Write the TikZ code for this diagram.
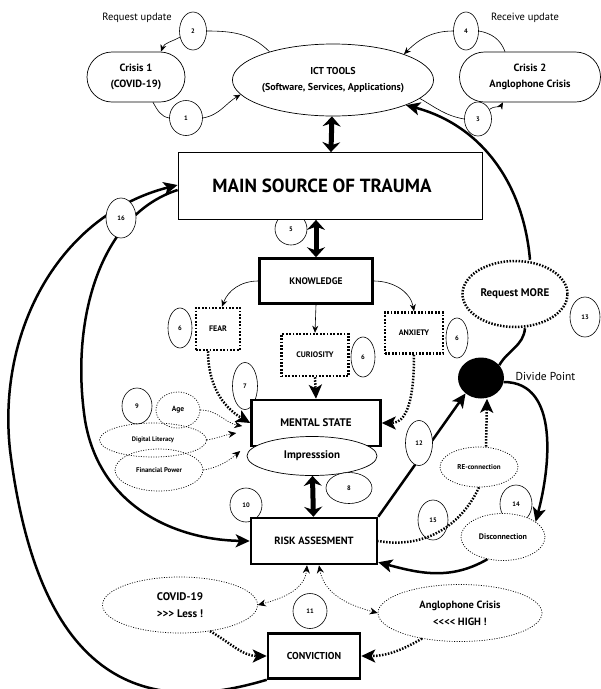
\documentclass[tikz,border=0pt]{standalone}
\usepackage{fontspec}
\setmainfont{PT Sans}
\usetikzlibrary{arrows.meta,shapes.geometric,shapes.misc}
\newcommand\fsz[2]{\fontsize{#1}{#2}\selectfont}

\begin{document}
\begin{tikzpicture}[x=1pt,y=-1pt,
  num/.style={draw,ellipse,fill=white,inner sep=0pt,line width=.6pt,font=\bfseries\fsz{6.5}{7}},
  pill/.style={draw,rounded rectangle,fill=white,align=center,inner sep=0pt,line width=.7pt,font=\bfseries\fsz{10.5}{16}},
  oval/.style={draw,ellipse,fill=white,align=center,inner sep=0pt,line width=.7pt},
  dotoval/.style={draw,ellipse,align=center,inner sep=0pt,line width=.7pt,dash pattern=on 1pt off 1.5pt},
  heavybox/.style={draw,line width=2.5pt,fill=white,inner sep=0pt,font=\bfseries\fsz{10.5}{12}},
  dotbox/.style={draw,line width=2.5pt,dash pattern=on 1.8pt off 1.6pt,fill=white,inner sep=0pt,font=\bfseries\fsz{8}{9}},
  thin/.style={line width=.6pt},
  thinarr/.style={line width=.6pt,-{Stealth[length=7pt,width=6pt]}},
  heavyarr/.style={line width=2.5pt,-{Stealth[length=14pt,width=13pt,inset=3.5pt]}},
  dotarr/.style={line width=2.5pt,dash pattern=on 1.5pt off 1.5pt,-{Stealth[length=14pt,width=13pt,inset=3.5pt]}},
  thindot/.style={line width=.7pt,dash pattern=on 1pt off 1.5pt},
  smallhead/.tip={Stealth[length=8pt,width=7pt]},
  dblarr/.style={line width=5pt,{Stealth[length=10pt,width=18pt]}-{Stealth[length=10pt,width=18pt]}}]
  \useasboundingbox (0,0) rectangle (601,689);

  \node[oval,minimum width=192pt,minimum height=72pt,font=\bfseries\fsz{10}{16}] (ict) at (333,80) {ICT TOOLS\\(Software, Services, Applications)};
  \node[pill,minimum width=98pt,minimum height=50pt] (crisA) at (136,77) {Crisis 1\\(COVID-19)};
  \node[pill,minimum width=141pt,minimum height=50pt] (crisB) at (530,77) {Crisis 2\\Anglophone Crisis};
  \node[num,minimum width=27pt,minimum height=38pt] (n2) at (193,31) {2};
  \node[num,minimum width=33pt,minimum height=35pt] (n1) at (186,118) {1};
  \node[num,minimum width=25pt,minimum height=38pt] (n4) at (466,31) {4};
  \node[num,minimum width=27pt,minimum height=34pt] (n3) at (478,119) {3};
  \node[font=\fsz{10.5}{12}] (requpd) at (137,18) {Request update};
  \node[font=\fsz{10.5}{12}] (recupd) at (525,18) {Receive update};

  \node[num,minimum width=32pt,minimum height=32pt] (n5) at (291,229) {5};
  \node[draw,line width=.8pt,fill=white,minimum width=304pt,minimum height=67pt,font=\bfseries\fsz{19}{20}] (trauma) at (330,186) {MAIN SOURCE OF TRAUMA\hspace*{16pt}};
  \node[heavybox,minimum width=113pt,minimum height=45pt,font=\bfseries\fsz{9.5}{10}] (know) at (316,281) {KNOWLEDGE};

  \node[dotbox,minimum width=44pt,minimum height=42pt] (fear) at (218,329) {FEAR};
  \node[num,minimum width=24pt,minimum height=40pt] (n6a) at (180,328) {6};
  \node[dotbox,minimum width=67pt,minimum height=42pt] (curio) at (315,355) {CURIOSITY};
  \node[num,minimum width=24pt,minimum height=40pt] (n6b) at (363,357) {6};
  \node[dotbox,minimum width=58pt,minimum height=41pt] (anx) at (414,333) {ANXIETY};
  \node[num,minimum width=22pt,minimum height=40pt] (n6c) at (457,338) {6};

  \node[num,minimum width=25pt,minimum height=47pt] (n7) at (245,386) {7};
  \node[heavybox,minimum width=129pt,minimum height=46pt,font=\bfseries\fsz{11}{12}] (mental) at (316,423) {MENTAL STATE};
  \node[oval,minimum width=130pt,minimum height=39pt,font=\bfseries\fsz{11}{12}] (impr) at (312,456) {Impresssion};
  \node[dotoval,minimum width=44pt,minimum height=36pt,font=\bfseries\fsz{7.5}{8}] (age) at (178,410) {Age};
  \node[num,minimum width=30pt,minimum height=36pt] (n9) at (137,406) {9};
  \node[dotoval,minimum width=107pt,minimum height=34pt,font=\bfseries\fsz{6.5}{7}] (dig) at (153,440) {Digital Literacy};
  \node[dotoval,minimum width=88pt,minimum height=42pt,font=\bfseries\fsz{6.8}{7}] (fin) at (159,470) {Financial Power};
  \node[num,minimum width=46pt,minimum height=31pt] (n8) at (349,488) {8};
  \node[num,minimum width=32pt,minimum height=34pt] (n10) at (246,505) {10};
  \node[heavybox,minimum width=126pt,minimum height=46pt] (risk) at (314,541) {RISK ASSESMENT};

  \node[ellipse,fill=black,minimum width=46pt,minimum height=41pt,inner sep=0pt] (div) at (481,378) {};
  \node[anchor=west,font=\fsz{11.5}{12}] (divlbl) at (512,376) {Divide Point};
  \node[oval,line width=2.5pt,dash pattern=on 1.5pt off 1.5pt,minimum width=105pt,minimum height=66pt,font=\bfseries\fsz{11}{12}] (req) at (515,294) {Request MORE};
  \node[num,minimum width=30pt,minimum height=40pt] (n13) at (585,317) {13};
  \node[dotoval,minimum width=78pt,minimum height=40pt,font=\bfseries\fsz{7}{8}] (recon) at (479,467) {RE-connection};
  \node[num,minimum width=32pt,minimum height=38pt] (n14) at (516,504) {14};
  \node[dotoval,fill=white,minimum width=84pt,minimum height=47pt,font=\bfseries\fsz{8}{9}] (disc) at (503,537) {Disconnection};
  \node[num,minimum width=30pt,minimum height=40pt] (n15) at (433,520) {15};

  \node[dotoval,minimum width=155pt,minimum height=56pt,font=\bfseries\fsz{11}{17}] (cov) at (180,605) {COVID-19\\{>}{>}{>} Less !};
  \node[dotoval,minimum width=164pt,minimum height=57pt,font=\bfseries\fsz{10.5}{17}] (ang) at (460,613) {Anglophone Crisis\\{<}{<}{<}{<} HIGH !};
  \node[num,minimum width=34pt,minimum height=35pt] (n11) at (310,611) {11};
  \node[heavybox,minimum width=92pt,minimum height=45pt,font=\bfseries\fsz{10}{12}] (conv) at (314,656) {CONVICTION};

  \draw[thin] (ict.156) to[out=135,in=0] (n2.east);
  \draw[thinarr] (n2.205) to[out=210,in=70] ([xshift=25pt]crisA.north);
  \draw[thin] ([xshift=17pt]crisA.south) to[out=-60,in=170] (n1.west);
  \draw[thinarr] (n1.east) to[out=10,in=210] (ict.189);
  \draw[thinarr] (n4.west) to[out=180,in=45] (ict.20);
  \draw[thin] (n4.east) to[out=-10,in=110] ([xshift=-25pt]crisB.north);
  \draw[thin] (ict.-12) to[out=-30,in=170] (n3.west);
  \draw[thinarr] (n3.40) to[out=40,in=240] ([xshift=-27pt]crisB.south);
  \draw[dblarr] (ict) -- (trauma);
  \draw[dblarr] (trauma.south -| know.north) -- (know.north);

  \draw[thinarr] (know.west) to[out=180,in=70] ([xshift=4pt]fear.north);
  \draw[thinarr] (know.south) -- (curio.north);
  \draw[thinarr] (know.east) to[out=0,in=100] (anx.north);
  \draw[dotarr] (curio.south) -- (mental.north);
  \draw[dotarr] ([xshift=-10pt]fear.south) to[out=-90,in=150] (mental.west);
  \draw[dotarr] (anx.south) to[out=-90,in=0] (mental.east);
  \draw[thindot,-smallhead] (age.east) to[out=0,in=170] ([xshift=-8pt,yshift=-3pt]mental.west);
  \draw[thindot,-smallhead] (dig.east) to[out=10,in=190] ([xshift=-14pt,yshift=-10pt]mental.west);
  \draw[thindot,-smallhead] (fin.east) to[out=10,in=220] ([xshift=-10pt,yshift=-28pt]mental.west);
  \draw[dblarr] (impr) -- (risk);

  \draw[heavyarr] (risk.north east) -- (div.225);
  \node[num,minimum width=27pt,minimum height=45pt] (n12) at (419,443) {12};
  \draw[line width=2.5pt] (div.35) to[out=60,in=-95] ([xshift=10pt]req.south);
  \draw[heavyarr] ([xshift=15pt]req.north) to[out=95,in=-15] (ict.-19);
  \draw[heavyarr] (div.-10) to[out=0,in=75] (disc.25);
  \draw[dotarr] ([xshift=7pt]recon.north) -- ([xshift=6pt]div.south);
  \draw[line width=2.5pt,dash pattern=on 1.5pt off 1.5pt] (recon.south) to[out=-115,in=-10] (risk.east);
  \draw[heavyarr] (disc.235) to[out=-150,in=-15] ([yshift=3pt]risk.south east);

  \draw[thindot,smallhead-smallhead] ([xshift=-7pt]risk.south) to[out=-95,in=15] (cov.east);
  \draw[thindot,smallhead-smallhead] ([xshift=5pt]risk.south) to[out=-80,in=165] (ang.west);
  \draw[dotarr] (cov.-41) to[out=-30,in=180] (conv.west);
  \draw[dotarr] (ang.-146) to[out=210,in=0] (conv.east);

  \draw[heavyarr] (conv.south west) .. controls (150,715) and (40,690) .. (10,450)
    .. controls (-3,330) and (60,215) .. ([yshift=1pt]trauma.west);
  \draw[heavyarr] ([yshift=-4pt]trauma.west) .. controls (100,215) and (70,320) .. (85,420)
    .. controls (100,510) and (180,540) .. (risk.west);
  \node[num,minimum width=30pt,minimum height=40pt] (n16) at (121,218) {16};
\end{tikzpicture}
\end{document}
